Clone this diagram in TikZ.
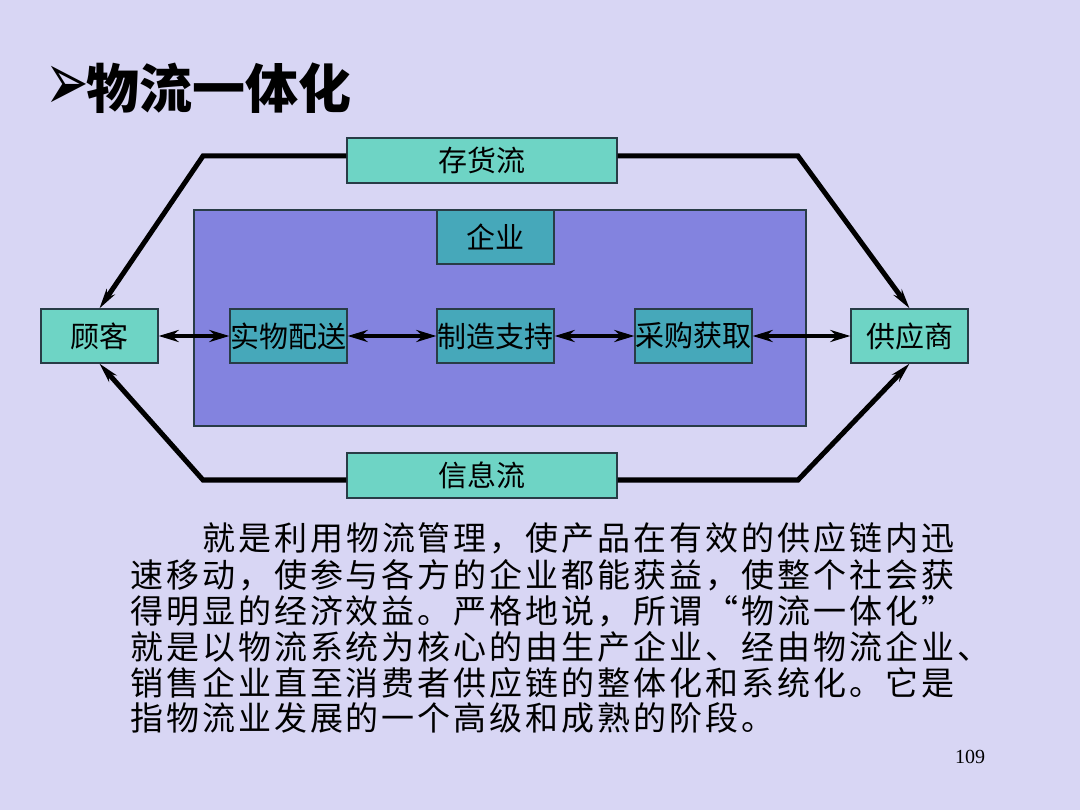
\documentclass[tikz,border=0pt]{standalone}
\usepackage{fontspec}
\usepackage{graphicx}
\setmainfont{Liberation Serif}
\newfontfamily\cjk{Noto Sans CJK SC}
\newfontfamily\cjkspaced{Noto Sans CJK SC}[LetterSpace=9]
\newfontfamily\dejavu{DejaVu Sans}
\usetikzlibrary{arrows.meta,calc}
\definecolor{bg}{RGB}{216,214,244}
\definecolor{bigbox}{RGB}{131,131,223}
\definecolor{tealL}{RGB}{110,212,197}
\definecolor{tealD}{RGB}{70,168,186}
\definecolor{edge}{RGB}{40,60,70}
\begin{document}
\begin{tikzpicture}[x=1pt,y=-1pt,
 box/.style={draw=edge,line width=1.3pt,fill=tealL,minimum width=117pt,minimum height=54pt,inner sep=0pt,font=\cjk\fontsize{29}{34}\selectfont},
 inbox/.style={box,fill=tealD},
 flowbox/.style={box,minimum width=270pt,minimum height=45pt},
 flow/.style={line width=5pt,-{Stealth[length=20pt,width=10pt]},line join=miter},
 link/.style={line width=4pt,{Stealth[length=20pt,width=12pt]}-{Stealth[length=20pt,width=12pt]}},
 para/.style={anchor=west,inner sep=0pt,font=\cjkspaced\fontsize{33}{36}\selectfont}
]
\useasboundingbox (0,0) rectangle (1080,810);
\fill[bg] (0,0) rectangle (1080,810);

% title
\node[anchor=west,inner sep=0pt,font=\dejavu\fontsize{52}{52}\selectfont] (bullet) at (45,88) {\scalebox{1}[1.6]{➢}};
\node[anchor=west,inner sep=0pt,font=\cjk\bfseries\fontsize{53}{53}\selectfont] (title) at (86,88) {物流一体化};

% enterprise box
\node[draw=edge,fill=bigbox,line width=1.3pt,minimum width=612pt,minimum height=216pt,inner sep=0pt] (big) at (500,318) {};
\node[inbox] (qiye) at (495.5,237) {企业};

% nodes
\node[box] (guke) at (99.5,336) {顾客};
\node[inbox] (shiwu) at (288.5,336) {实物配送};
\node[inbox] (zhizao) at (495.5,336) {制造支持};
\node[inbox] (caigou) at (693.5,336) {采购获取};
\node[box] (gys) at (909.5,336) {供应商};
\node[flowbox] (cunhuo) at (482,160.5) {存货流};
\node[flowbox] (xinxi) at (482,475.5) {信息流};

% corner points
\coordinate (tl) at (203,156);
\coordinate (tr) at (798,156);
\coordinate (bl) at (203,480);
\coordinate (br) at (798,480);

% flows
\draw[flow] (cunhuo.west |- tl) -- (tl) -- (guke.north);
\draw[flow] (cunhuo.east |- tr) -- (tr) -- (gys.north);
\draw[flow] (xinxi.west |- bl) -- (bl) -- (guke.south);
\draw[flow] (xinxi.east |- br) -- (br) -- (gys.south);

% links
\draw[link] (guke) -- (shiwu);
\draw[link] (shiwu) -- (zhizao);
\draw[link] (zhizao) -- (caigou);
\draw[link] (caigou) -- (gys);

% paragraph
\node[para] (p1) at (202,538) {就是利用物流管理，使产品在有效的供应链内迅};
\node[para] (p2) at (130,575) {速移动，使参与各方的企业都能获益，使整个社会获};
\node[para] (p3) at (130,611) {得明显的经济效益。严格地说，所谓“物流一体化”};
\node[para] (p4) at (130,647) {就是以物流系统为核心的由生产企业、经由物流企业、};
\node[para] (p5) at (130,683) {销售企业直至消费者供应链的整体化和系统化。它是};
\node[para] (p6) at (130,718) {指物流业发展的一个高级和成熟的阶段。};

\node[inner sep=0pt,font=\fontsize{20}{20}\selectfont] (pg) at (970,757) {109};
\end{tikzpicture}
\end{document}
